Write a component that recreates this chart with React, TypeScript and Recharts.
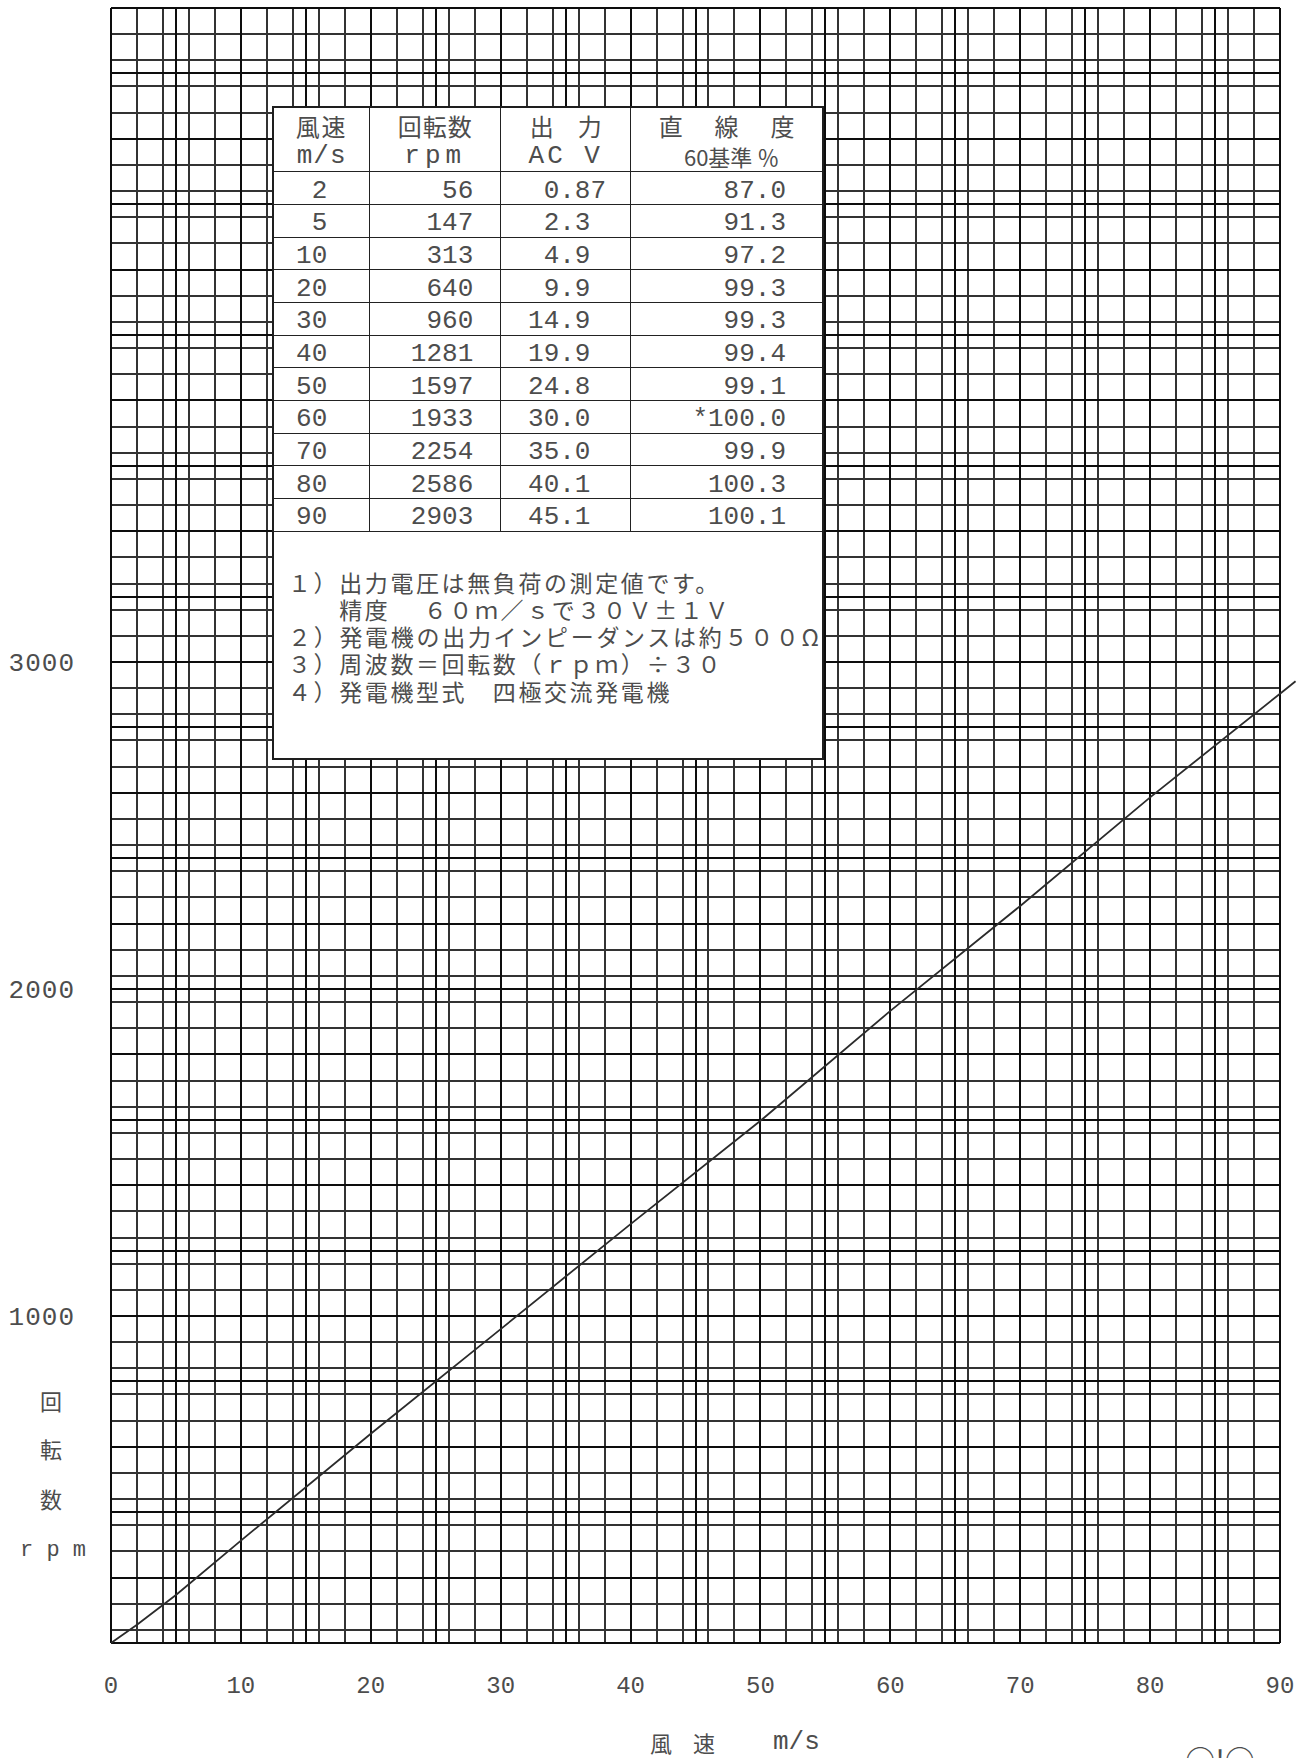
import React from 'react';
import { LineChart, Line, XAxis, YAxis, CartesianGrid, ReferenceLine, Label } from 'recharts';

// measured values from the test sheet
const windSpeeds = [2, 5, 10, 20, 30, 40, 50, 60, 70, 80, 90];
const rpmValues = [56, 147, 313, 640, 960, 1281, 1597, 1933, 2254, 2586, 2903];
const acVolts = ['0.87', '2.3', '4.9', '9.9', '14.9', '19.9', '24.8', '30.0', '35.0', '40.1', '45.1'];
const linearity = ['87.0', '91.3', '97.2', '99.3', '99.3', '99.4', '99.1', '*100.0', '99.9', '100.3', '100.1'];

const xTicks = [0, 10, 20, 30, 40, 50, 60, 70, 80, 90];
const yTicks = [1000, 2000, 3000];

// the drawn line starts in the corner and runs a little past the right frame
const origin = { speed: 0, rpm: 0 };
const overshoot = { speed: 91.2, rpm: 2941 };

const notes = [
  '１）出力電圧は無負荷の測定値です。',
  '　　精度　 ６０ｍ／ｓで３０Ｖ±１Ｖ',
  '２）発電機の出力インピーダンスは約５００Ω',
  '３）周波数＝回転数（ｒｐｍ）÷３０',
  '４）発電機型式　四極交流発電機',
];

const curve = [origin, ...windSpeeds.map((s, i) => ({ speed: s, rpm: rpmValues[i] }))];

// graph paper: 1 m/s by 40 rpm cells
const gridSpeeds = Array.from({ length: 91 }, (_, i) => i);
const gridRpms = Array.from({ length: 126 }, (_, i) => i * 40);
const boldSpeeds = gridSpeeds.filter((v) => v % 5 === 0);
const boldRpms = gridRpms.filter((v) => v % 200 === 0);

const MONO = '"Liberation Mono", "DejaVu Sans Mono", monospace';
const JP = '"Noto Sans CJK JP", "Noto Sans", sans-serif';
const INK = '#4d4d4d';

const XTick = ({ x, y, payload }: any) => (
  <text x={x} y={y + 50} textAnchor="middle" fontFamily={MONO} fontSize={24} fill={INK}>
    {payload.value}
  </text>
);

const YTick = ({ x, y, payload }: any) => (
  <text x={x - 36} y={y + 9} textAnchor="end" fontFamily={MONO} fontSize={26} letterSpacing={1} fill={INK}>
    {payload.value}
  </text>
);

const YTitle = ({ viewBox }: any) => {
  const bottom = viewBox.y + viewBox.height;
  const cx = viewBox.x + 51;
  return (
    <g fill={INK}>
      <text x={cx} y={bottom - 243} textAnchor="middle" dominantBaseline="central" fontFamily={JP} fontSize={22}>回</text>
      <text x={cx} y={bottom - 195} textAnchor="middle" dominantBaseline="central" fontFamily={JP} fontSize={22}>転</text>
      <text x={cx} y={bottom - 145} textAnchor="middle" dominantBaseline="central" fontFamily={JP} fontSize={22}>数</text>
      <text x={cx + 2} y={bottom - 93} textAnchor="middle" dominantBaseline="central" fontFamily={MONO} fontSize={22}>r p m</text>
    </g>
  );
};

const XTitle = ({ viewBox }: any) => {
  const y = viewBox.y + 99;
  return (
    <g fill={INK}>
      <text x={661} y={y} textAnchor="middle" dominantBaseline="central" fontFamily={JP} fontSize={22}>風</text>
      <text x={704} y={y} textAnchor="middle" dominantBaseline="central" fontFamily={JP} fontSize={22}>速</text>
      <text x={773} y={y} dominantBaseline="central" fontFamily={MONO} fontSize={26}>m/s</text>
    </g>
  );
};

const cellBase: React.CSSProperties = {
  boxSizing: 'border-box',
  height: '100%',
  fontFamily: MONO,
  fontSize: 26,
  color: INK,
  display: 'flex',
  alignItems: 'center',
};
const dataCell: React.CSSProperties = { ...cellBase, paddingTop: 5 };
const colWidths = [96.25, 131, 130];
const line = '1.5px solid #222';

const HeadCell = ({ top, bottom, width, last, topStyle, bottomStyle }: any) => (
  <div
    style={{
      ...cellBase,
      width: width,
      flex: last ? 1 : undefined,
      borderRight: last ? 'none' : line,
      flexDirection: 'column',
      justifyContent: 'center',
      paddingTop: 3,
    }}
  >
    <div style={{ lineHeight: '31px', fontFamily: JP, fontSize: 24, ...topStyle }}>{top}</div>
    <div style={{ lineHeight: '31px', ...bottomStyle }}>{bottom}</div>
  </div>
);

const DataTable = () => (
  <div
    style={{
      position: 'absolute',
      left: 272,
      top: 106,
      width: 552,
      height: 654,
      boxSizing: 'border-box',
      border: '2.5px solid #1e1e1e',
      background: '#fff',
      display: 'flex',
      flexDirection: 'column',
    }}
  >
    <div style={{ display: 'flex', height: 64.25, borderBottom: line, boxSizing: 'border-box' }}>
      <HeadCell width={colWidths[0]} top="風速" bottom="m/s" topStyle={{ letterSpacing: 2 }} bottomStyle={{ letterSpacing: 1 }} />
      <HeadCell width={colWidths[1]} top="回転数" bottom="rpm" topStyle={{ letterSpacing: 1 }} bottomStyle={{ letterSpacing: 5 }} />
      <HeadCell width={colWidths[2]} top="出　力" bottom="AC V" bottomStyle={{ letterSpacing: 3 }} />
      <HeadCell
        last
        top="直　線　度"
        bottom="60基準 ％"
        topStyle={{ letterSpacing: 4, paddingLeft: 4 }}
        bottomStyle={{ fontFamily: JP, fontSize: 22, paddingLeft: 10 }}
      />
    </div>
    {windSpeeds.map((s, i) => {
      const [intPart, frac] = acVolts[i].split('.');
      return (
        <div key={s} style={{ display: 'flex', height: 32.7, borderBottom: line, boxSizing: 'border-box' }}>
          <div style={{ ...dataCell, width: colWidths[0], borderRight: line, justifyContent: 'flex-end', paddingRight: 42 }}>{s}</div>
          <div style={{ ...dataCell, width: colWidths[1], borderRight: line, justifyContent: 'flex-end', paddingRight: 27 }}>
            {rpmValues[i]}
          </div>
          <div style={{ ...dataCell, width: colWidths[2], borderRight: line }}>
            <span style={{ display: 'inline-block', width: 58, textAlign: 'right' }}>{intPart}</span>
            <span>.{frac}</span>
          </div>
          <div style={{ ...dataCell, flex: 1, justifyContent: 'flex-end', paddingRight: 36 }}>{linearity[i]}</div>
        </div>
      );
    })}
    <div style={{ flex: 1, paddingTop: 37, paddingLeft: 14, boxSizing: 'border-box' }}>
      {notes.map((n, i) => (
        <div
          key={i}
          style={{
            fontFamily: JP,
            fontSize: 23,
            lineHeight: '27.2px',
            color: INK,
            whiteSpace: 'pre',
            letterSpacing: i === 2 ? 2.7 : 2.6,
          }}
        >
          {n}
        </div>
      ))}
    </div>
  </div>
);

export default function App() {
  return (
    <div style={{ position: 'absolute', left: 0, top: 0, width: 1305, height: 1758, background: '#fff', overflow: 'hidden' }}>
      <style>{'.recharts-cartesian-grid line { shape-rendering: crispEdges; }'}</style>
      <LineChart width={1305} height={1758} data={curve} margin={{ top: 8, right: 25, bottom: 0, left: 0 }}>
        <CartesianGrid
          verticalValues={gridSpeeds}
          horizontalValues={gridRpms}
          stroke="#333"
          strokeWidth={2}
          strokeDasharray=""
        />
        <CartesianGrid
          verticalValues={boldSpeeds}
          horizontalValues={boldRpms}
          stroke="#0d0d0d"
          strokeWidth={2}
          strokeDasharray=""
        />
        <XAxis
          type="number"
          dataKey="speed"
          domain={[0, 90]}
          ticks={xTicks}
          height={115}
          axisLine={false}
          tickLine={false}
          tickSize={0}
          tickMargin={0}
          tick={<XTick />}
        >
          <Label content={<XTitle />} />
        </XAxis>
        <YAxis
          type="number"
          dataKey="rpm"
          domain={[0, 5000]}
          ticks={yTicks}
          width={111}
          axisLine={false}
          tickLine={false}
          tickSize={0}
          tickMargin={0}
          tick={<YTick />}
        >
          <Label content={<YTitle />} />
        </YAxis>
        <Line
          type="linear"
          dataKey="rpm"
          stroke="#2b2b2b"
          strokeWidth={1.8}
          dot={false}
          isAnimationActive={false}
        />
        <ReferenceLine
          segment={[
            { x: windSpeeds[windSpeeds.length - 1], y: rpmValues[rpmValues.length - 1] },
            { x: overshoot.speed, y: overshoot.rpm },
          ]}
          ifOverflow="visible"
          stroke="#2b2b2b"
          strokeWidth={1.8}
        />
      </LineChart>
      <DataTable />
      <div
        style={{
          position: 'absolute',
          left: 1180,
          top: 1741,
          width: 80,
          textAlign: 'center',
          fontFamily: JP,
          fontSize: 30,
          lineHeight: '36px',
          color: INK,
        }}
      >
        ○!○
      </div>
    </div>
  );
}
